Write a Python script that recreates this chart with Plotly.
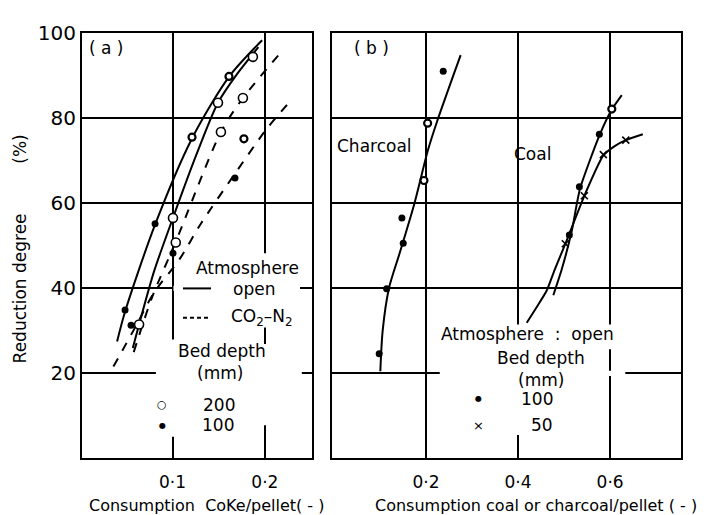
import plotly.graph_objects as go

W, H = 712, 515

# ---------------- Panel (a): coke ----------------
a_xticks = [0.1, 0.2]
a_xticktext = ["0·1", "0·2"]
y_ticks = [20, 40, 60, 80, 100]
y_ticktext = ["20", "40", "60", "80", "100"]

# measured points
a_dot_x = [0.0486, 0.0551, 0.0811, 0.1005, 0.1676]
a_dot_y = [34.9, 31.3, 55.2, 48.3, 66.0]
a_ring_x = [0.1211, 0.1611, 0.1773]
a_ring_y = [75.6, 89.9, 75.2]
a_circ_x = [0.0638, 0.1005, 0.1492, 0.187, 0.1035, 0.1524, 0.1762]
a_circ_y = [31.5, 56.6, 83.7, 94.5, 50.8, 76.8, 84.8]

# fitted curves
a_open100_x = [0.040, 0.0486, 0.0811, 0.1211, 0.1611, 0.197]
a_open100_y = [27.5, 34.5, 55.0, 75.3, 89.8, 98.4]
a_open200_x = [0.057, 0.0638, 0.08, 0.1005, 0.125, 0.1492, 0.17, 0.193]
a_open200_y = [26.0, 31.5, 44.0, 56.6, 71.0, 83.7, 90.5, 96.8]
a_co2_200_x = [0.058, 0.078, 0.1035, 0.1524, 0.1762, 0.2195]
a_co2_200_y = [25.0, 38.0, 51.0, 76.8, 84.8, 96.1]
a_co2_100_x = [0.036, 0.06, 0.08, 0.108, 0.13, 0.166, 0.2018, 0.2292]
a_co2_100_y = [21.6, 31.0, 39.0, 47.0, 55.0, 66.5, 77.5, 84.5]

# ---------------- Panel (b): coal / charcoal ----------------
b_xticks = [0.2, 0.4, 0.6]
b_xticktext = ["0·2", "0·4", "0·6"]

b_char_dot_x = [0.0985, 0.1146, 0.1478, 0.1507, 0.2376]
b_char_dot_y = [24.6, 39.9, 56.6, 50.6, 91.1]
b_char_ring_x = [0.1957, 0.2037]
b_char_ring_y = [65.4, 78.9]
b_char_x = [0.101, 0.106, 0.1196, 0.1435, 0.175, 0.2043, 0.2233, 0.2754]
b_char_y = [20.5, 30.0, 40.0, 48.5, 60.0, 72.5, 79.0, 94.9]

b_coal_dot_x = [0.5115, 0.5333, 0.5767]
b_coal_dot_y = [52.6, 63.9, 76.3]
b_coal_ring_x = [0.6037]
b_coal_ring_y = [82.2]
b_coal_cross_x = [0.5028, 0.5441, 0.5854, 0.6341]
b_coal_cross_y = [50.5, 61.8, 71.5, 74.9]
b_coal100_x = [0.4767, 0.495, 0.5167, 0.5348, 0.578, 0.6037, 0.6254]
b_coal100_y = [38.4, 44.5, 53.5, 63.5, 76.3, 82.1, 85.5]
b_coal50_x = [0.419, 0.44, 0.4624, 0.48, 0.5028, 0.5441, 0.5854, 0.61, 0.6341, 0.671]
b_coal50_y = [31.9, 35.5, 39.5, 44.5, 50.5, 61.8, 71.3, 73.5, 74.9, 76.3]

FONT = "DejaVu Sans"
BLACK = "black"


def px(x):
    return x / W


def py(y):
    return 1 - y / H


fig = go.Figure()


def curve(x, y, xa, ya, dash="solid", smooth=0.8):
    fig.add_trace(go.Scatter(x=x, y=y, xaxis=xa, yaxis=ya, mode="lines",
                             line=dict(color=BLACK, width=2, dash=dash,
                                       shape="spline", smoothing=smooth),
                             hoverinfo="skip", showlegend=False))


def marks(x, y, xa, ya, kind):
    if kind == "dot":
        m = dict(symbol="circle", size=7, color=BLACK)
    elif kind == "ring":
        m = dict(symbol="circle", size=7, color="white", line=dict(color=BLACK, width=2.2))
    elif kind == "circ":
        m = dict(symbol="circle", size=9, color="white", line=dict(color=BLACK, width=1.6))
    else:
        m = dict(symbol="x-thin-open", size=7, color=BLACK, line=dict(color=BLACK, width=1.6))
    fig.add_trace(go.Scatter(x=x, y=y, xaxis=xa, yaxis=ya, mode="markers",
                             marker=m, hoverinfo="skip", showlegend=False))


# panel a curves
curve(a_open100_x, a_open100_y, "x", "y")
curve(a_open200_x, a_open200_y, "x", "y")
curve(a_co2_200_x, a_co2_200_y, "x", "y", dash="dash")
curve(a_co2_100_x, a_co2_100_y, "x", "y", dash="dash")
marks(a_dot_x, a_dot_y, "x", "y", "dot")
marks(a_ring_x, a_ring_y, "x", "y", "ring")
marks(a_circ_x, a_circ_y, "x", "y", "circ")

# panel b curves
curve(b_char_x, b_char_y, "x2", "y2")
curve(b_coal100_x, b_coal100_y, "x2", "y2", smooth=0.6)
curve(b_coal50_x, b_coal50_y, "x2", "y2", smooth=0.6)
marks(b_char_dot_x, b_char_dot_y, "x2", "y2", "dot")
marks(b_char_ring_x, b_char_ring_y, "x2", "y2", "ring")
marks(b_coal_dot_x, b_coal_dot_y, "x2", "y2", "dot")
marks(b_coal_ring_x, b_coal_ring_y, "x2", "y2", "ring")
marks(b_coal_cross_x, b_coal_cross_y, "x2", "y2", "cross")

ydom = [py(457), py(22)]
axis_common = dict(showgrid=True, gridcolor=BLACK, gridwidth=1.5, showline=True,
                   mirror=True, linecolor=BLACK, linewidth=2, zeroline=False,
                   ticks="", fixedrange=True)

fig.update_layout(
    width=W, height=H,
    margin=dict(l=0, r=0, t=0, b=0),
    paper_bgcolor="white", plot_bgcolor="white",
    font=dict(family=FONT, color=BLACK, size=17),
    xaxis=dict(domain=[px(82), px(312)], range=[0.002, 0.251], anchor="y",
               tickvals=a_xticks, ticktext=a_xticktext, tickfont=dict(size=17),
               ticklabelstandoff=7, **axis_common),
    yaxis=dict(domain=ydom, range=[0, 100], anchor="x",
               tickvals=y_ticks, ticktext=y_ticktext, tickfont=dict(size=20),
               ticklabelstandoff=0, **axis_common),
    xaxis2=dict(domain=[px(332), px(681)], range=[-0.004, 0.754], anchor="y2",
                tickvals=b_xticks, ticktext=b_xticktext, tickfont=dict(size=17),
                ticklabelstandoff=7, **axis_common),
    yaxis2=dict(domain=ydom, range=[0, 100], anchor="x2",
                tickvals=y_ticks, showticklabels=False, **axis_common),
)

# white patches interrupting the grid lines behind the labels (data coords)
gaps = [
    ("x", "y", 0.101, 0.238, 39.4, 40.6),    # y=40 (a)
    ("x", "y", 0.082, 0.240, 19.4, 20.6),    # y=20 (a)
    ("x", "y", 0.0972, 0.1028, 5.1, 28.0),   # x=0.1 (a)
    ("x", "y", 0.1972, 0.2028, 30.8, 48.3),  # x=0.2 (a)
    ("x", "y", 0.1972, 0.2028, 7.8, 26.9),   # x=0.2 (a)
    ("x2", "y2", 0.230, 0.633, 19.4, 20.6),  # y=20 (b)
    ("x2", "y2", 0.394, 0.406, 5.5, 31.5),   # x=0.4 (b)
    ("x2", "y2", 0.594, 0.606, 25.7, 31.5),  # x=0.6 (b)
]
for xr, yr, x0, x1, y0, y1 in gaps:
    fig.add_shape(type="rect", xref=xr, yref=yr, x0=x0, x1=x1, y0=y0, y1=y1,
                  fillcolor="white", line=dict(width=0), layer="between")

# legend sample lines (panel a)
fig.add_shape(type="line", xref="paper", yref="paper", x0=px(183), x1=px(211),
              y0=py(283), y1=py(283), line=dict(color=BLACK, width=2))
fig.add_shape(type="line", xref="paper", yref="paper", x0=px(183), x1=px(210),
              y0=py(313), y1=py(313), line=dict(color=BLACK, width=2, dash="4px,3px"))


def label(text, x, y, size=17, anchor="center", angle=0):
    fig.add_annotation(text=text, x=px(x), y=py(y), xref="paper", yref="paper",
                       xanchor=anchor, yanchor="middle", showarrow=False,
                       textangle=angle, font=dict(size=size, family=FONT, color=BLACK))


# panel a texts
label("( a )", 106, 37)
label("Atmosphere", 247, 262)
label("open", 254, 284)
label("CO<sub>2</sub>–N<sub>2</sub>", 262, 313)
label("Bed depth", 222, 347)
label("(mm)", 220, 370)
label("○", 162, 402, size=11)
label("200", 219, 402)
label("●", 162, 423, size=8)
label("100", 218, 423)

# panel b texts
label("( b )", 371, 37)
label("Charcoal", 374, 137)
label("Coal", 532, 145)
label("Atmosphere  :  open", 527, 330)
label("Bed depth", 541, 354)
label("(mm)", 541, 377)
label("●", 479, 396, size=8)
label("100", 537, 396)
label("×", 479, 423, size=13)
label("50", 542, 423)

# axis titles
label("Reduction degree", 20, 283, angle=-90)
label("(%)", 20, 141, angle=-90)
label("Consumption  CoKe/pellet( - )", 206, 505, size=16)
label("Consumption coal or charcoal/pellet ( - )", 536, 505, size=16)

fig.write_html("out.html")
